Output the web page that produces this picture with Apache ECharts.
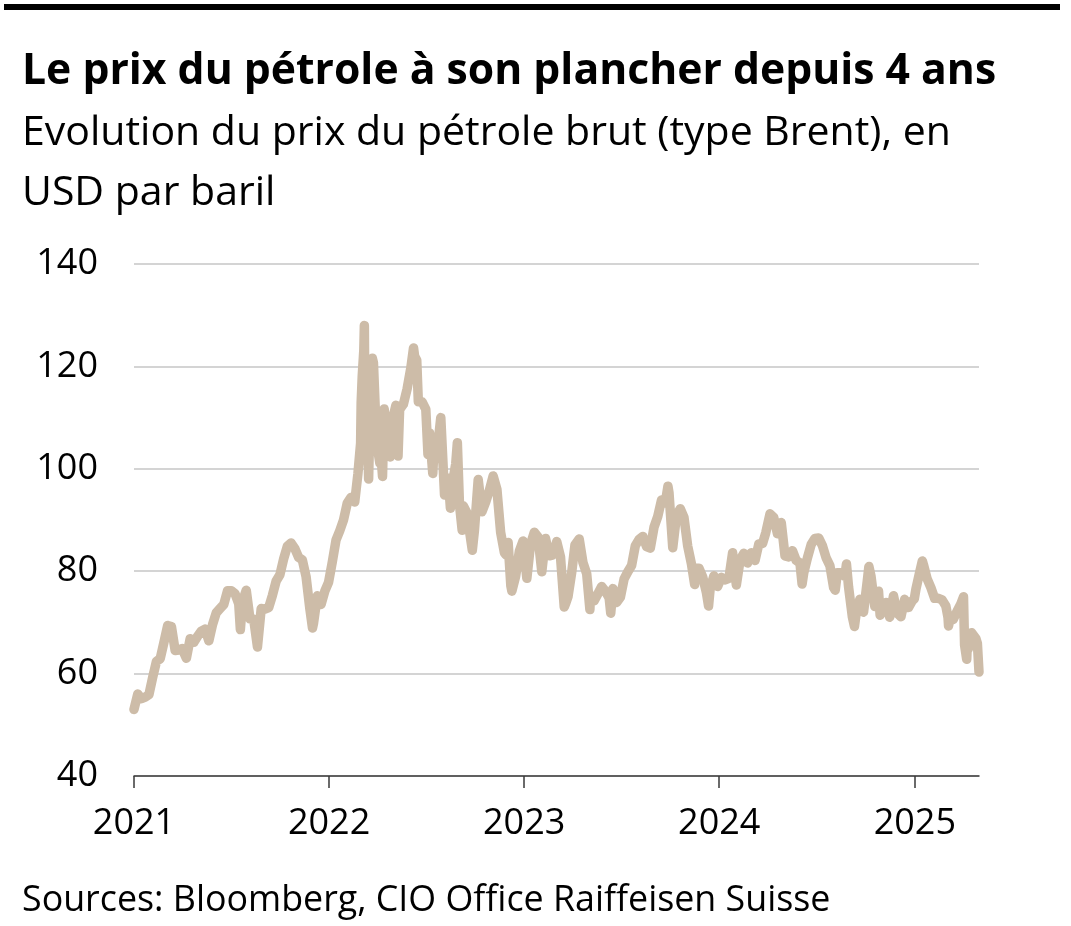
<!DOCTYPE html>
<html>
<head>
<meta charset="utf-8">
<script src="https://cdn.jsdelivr.net/npm/echarts@6/dist/echarts.min.js"></script>
<style>
html,body{margin:0;padding:0;background:#fff;}
#chart{width:1071px;height:926px;}
</style>
</head>
<body>
<div id="chart"></div>
<script>
// ---- Data (Brent, USD per barrel, approx. weekly closes) ----
var dates2021 = ['2021-01-01','2021-01-08','2021-01-15','2021-01-22','2021-01-29','2021-02-05','2021-02-12','2021-02-19','2021-02-26','2021-03-05','2021-03-12','2021-03-19','2021-03-26','2021-04-01','2021-04-09','2021-04-16','2021-04-23','2021-04-30','2021-05-07','2021-05-14','2021-05-21','2021-05-28','2021-06-04','2021-06-11','2021-06-18','2021-06-25','2021-07-02','2021-07-09','2021-07-16','2021-07-19','2021-07-23','2021-07-30','2021-08-06','2021-08-13','2021-08-20','2021-08-27','2021-09-03','2021-09-10','2021-09-17','2021-09-24','2021-10-01','2021-10-08','2021-10-15','2021-10-22','2021-10-29','2021-11-05','2021-11-12','2021-11-19','2021-11-26','2021-12-01','2021-12-03','2021-12-10','2021-12-17','2021-12-24','2021-12-31'];
var prices2021 = [53.0,56.0,55.1,55.4,55.9,59.3,62.4,62.9,66.1,69.4,69.2,64.5,64.6,64.9,63.0,66.8,66.1,67.3,68.3,68.7,66.4,69.6,71.9,72.7,73.5,76.2,76.2,75.6,73.6,68.6,74.1,76.3,70.7,70.6,65.2,72.7,72.6,72.9,75.3,78.1,79.3,82.4,84.9,85.5,84.4,82.7,82.2,78.9,72.7,68.9,69.9,75.2,73.5,76.1,77.8];

var dates2022 = ['2022-01-07','2022-01-14','2022-01-21','2022-01-28','2022-02-04','2022-02-11','2022-02-18','2022-02-24','2022-03-01','2022-03-02','2022-03-04','2022-03-07','2022-03-08','2022-03-09','2022-03-11','2022-03-14','2022-03-16','2022-03-18','2022-03-21','2022-03-23','2022-03-25','2022-03-29','2022-03-31','2022-04-01','2022-04-06','2022-04-08','2022-04-11','2022-04-14','2022-04-19','2022-04-22','2022-04-25','2022-04-29','2022-05-06','2022-05-10','2022-05-13','2022-05-20','2022-05-27','2022-06-03','2022-06-08','2022-06-10','2022-06-14','2022-06-17','2022-06-24','2022-07-01','2022-07-05','2022-07-08','2022-07-14','2022-07-15','2022-07-22','2022-07-29','2022-08-05','2022-08-12','2022-08-16','2022-08-19','2022-08-26','2022-08-29','2022-09-02','2022-09-07','2022-09-09','2022-09-16','2022-09-23','2022-09-26','2022-09-30','2022-10-07','2022-10-14','2022-10-21','2022-10-28','2022-11-04','2022-11-11','2022-11-18','2022-11-25','2022-11-28','2022-12-02','2022-12-07','2022-12-09','2022-12-16','2022-12-23','2022-12-30'];
var prices2022 = [81.8,86.1,87.9,90.0,93.3,94.4,93.5,99.1,105.0,112.9,118.1,123.2,128.0,111.1,112.7,106.9,98.0,107.9,115.6,121.6,120.7,110.2,107.9,104.4,101.1,102.8,98.5,111.7,107.3,106.7,102.3,109.3,112.4,102.5,111.6,112.6,115.6,119.7,123.6,122.0,121.2,113.1,113.1,111.6,102.8,107.0,99.1,101.2,103.2,110.0,94.9,98.2,92.3,96.7,101.0,105.1,93.0,88.0,92.8,91.4,86.2,84.1,88.0,97.9,91.6,93.5,95.8,98.6,96.0,87.6,83.6,83.2,85.6,77.2,76.1,79.0,83.9,85.9];

var dates2023 = ['2023-01-06','2023-01-13','2023-01-20','2023-01-27','2023-02-03','2023-02-10','2023-02-17','2023-02-24','2023-03-03','2023-03-10','2023-03-17','2023-03-20','2023-03-24','2023-03-31','2023-04-06','2023-04-14','2023-04-21','2023-04-28','2023-05-04','2023-05-05','2023-05-12','2023-05-19','2023-05-26','2023-06-02','2023-06-09','2023-06-12','2023-06-16','2023-06-23','2023-06-30','2023-07-07','2023-07-14','2023-07-21','2023-07-28','2023-08-04','2023-08-11','2023-08-18','2023-08-25','2023-09-01','2023-09-08','2023-09-15','2023-09-22','2023-09-27','2023-09-29','2023-10-06','2023-10-13','2023-10-20','2023-10-27','2023-11-03','2023-11-10','2023-11-16','2023-11-17','2023-11-24','2023-12-01','2023-12-08','2023-12-12','2023-12-15','2023-12-22','2023-12-29'];
var prices2023 = [78.6,85.3,87.6,86.7,79.9,86.4,83.0,83.2,85.8,82.8,73.0,73.8,75.0,79.8,85.1,86.3,81.7,79.5,72.5,75.3,74.2,75.6,77.0,76.1,74.8,71.8,76.6,73.9,74.9,78.5,79.9,81.1,85.0,86.2,86.8,84.8,84.5,88.6,90.7,93.9,93.3,96.6,95.3,84.6,90.9,92.2,90.5,84.9,81.4,77.4,80.6,80.6,78.9,75.8,73.2,76.6,79.1,77.0];

var dates2024 = ['2024-01-05','2024-01-12','2024-01-19','2024-01-26','2024-02-02','2024-02-09','2024-02-16','2024-02-23','2024-03-01','2024-03-08','2024-03-15','2024-03-22','2024-03-28','2024-04-05','2024-04-12','2024-04-19','2024-04-26','2024-05-03','2024-05-10','2024-05-17','2024-05-24','2024-05-31','2024-06-04','2024-06-07','2024-06-14','2024-06-21','2024-06-28','2024-07-05','2024-07-12','2024-07-19','2024-07-26','2024-08-02','2024-08-05','2024-08-09','2024-08-16','2024-08-23','2024-08-26','2024-08-30','2024-09-06','2024-09-10','2024-09-13','2024-09-20','2024-09-27','2024-10-04','2024-10-07','2024-10-11','2024-10-18','2024-10-25','2024-10-28','2024-11-01','2024-11-08','2024-11-15','2024-11-22','2024-11-29','2024-12-06','2024-12-13','2024-12-20','2024-12-27','2024-12-31'];
var prices2024 = [78.8,78.3,78.6,83.6,77.3,82.2,83.5,81.6,83.6,82.1,85.3,85.4,87.5,91.2,90.5,87.3,89.5,83.0,82.8,84.0,82.1,81.6,77.5,79.6,82.6,85.2,86.4,86.5,85.0,82.6,81.1,76.8,76.3,79.7,79.7,79.0,81.4,76.9,71.1,69.2,71.6,74.5,72.0,78.1,80.9,79.0,73.1,76.1,71.4,73.1,73.9,71.0,75.2,71.8,71.1,74.5,72.9,74.2,74.6];

var dates2025 = ['2025-01-03','2025-01-10','2025-01-15','2025-01-17','2025-01-24','2025-01-31','2025-02-07','2025-02-14','2025-02-21','2025-02-28','2025-03-04','2025-03-05','2025-03-07','2025-03-14','2025-03-21','2025-03-28','2025-04-02','2025-04-04','2025-04-08','2025-04-09','2025-04-11','2025-04-17','2025-04-25','2025-04-28','2025-05-01'];
var prices2025 = [76.5,79.8,82.0,81.3,78.5,76.8,74.7,74.7,74.4,73.2,71.0,69.3,70.4,70.6,72.2,73.6,75.0,65.6,62.8,65.5,64.8,68.0,66.9,65.9,60.3];

var yTicks = [40, 60, 80, 100, 120, 140];
var titleText = 'Le prix du pétrole à son plancher depuis 4 ans';
var subtitleText = 'Evolution du prix du pétrole brut (type Brent), en\nUSD par baril';
var sourceText = 'Sources: Bloomberg, CIO Office Raiffeisen Suisse';

// ---- Build series ----
var allDates = dates2021.concat(dates2022, dates2023, dates2024, dates2025);
var allPrices = prices2021.concat(prices2022, prices2023, prices2024, prices2025);
var seriesData = allDates.map(function (d, i) { return [d, allPrices[i]]; });

var FONT = 'Open Sans';
var chart = echarts.init(document.getElementById('chart'), null, {renderer: 'canvas'});
chart.setOption({
  animation: false,
  backgroundColor: '#ffffff',
  graphic: [{
    type: 'rect',
    shape: {x: 4, y: 4, width: 1056, height: 6},
    style: {fill: '#000000'}
  }],
  title: [
    {text: titleText, left: 22, top: 51, padding: 0,
     textStyle: {fontFamily: FONT, fontSize: 42.7, fontWeight: 'bold', color: '#000', lineHeight: 42}},
    {text: subtitleText, left: 22, top: 103, padding: 0,
     textStyle: {fontFamily: FONT, fontSize: 41, fontWeight: 'normal', color: '#000', lineHeight: 60}},
    {text: sourceText, left: 22, top: 883, padding: 0,
     textStyle: {fontFamily: FONT, fontSize: 35.8, fontWeight: 'normal', color: '#000', lineHeight: 36}}
  ],
  grid: {left: 134, right: 92, top: 264, bottom: 150, containLabel: false},
  xAxis: {
    type: 'time',
    min: '2021-01-01',
    max: allDates[allDates.length - 1],
    minInterval: 365 * 24 * 3600 * 1000,
    maxInterval: 366 * 24 * 3600 * 1000,
    axisLine: {show: true, lineStyle: {color: '#3a3a3a', width: 1.5}},
    axisTick: {show: true, length: 12, lineStyle: {color: '#3a3a3a', width: 1.5}},
    splitLine: {show: false},
    axisLabel: {
      fontFamily: FONT, fontSize: 36, color: '#000', margin: 30,
      showMinLabel: true,
      formatter: function (v) {
        var d = new Date(v);
        return d.getMonth() === 0 && d.getDate() === 1 ? String(d.getFullYear()) : '';
      }
    }
  },
  yAxis: {
    type: 'value',
    min: yTicks[0], max: yTicks[yTicks.length - 1], interval: 20,
    axisLine: {show: false},
    axisTick: {show: false},
    splitLine: {show: true, lineStyle: {color: '#c6c6c6', width: 1.5}},
    axisLabel: {fontFamily: FONT, fontSize: 36, color: '#000', margin: 36}
  },
  series: [{
    type: 'line',
    data: seriesData,
    showSymbol: false,
    lineStyle: {color: '#CDBCA8', width: 9.5, cap: 'round', join: 'round'},
    z: 3
  }]
});
</script>
</body>
</html>
